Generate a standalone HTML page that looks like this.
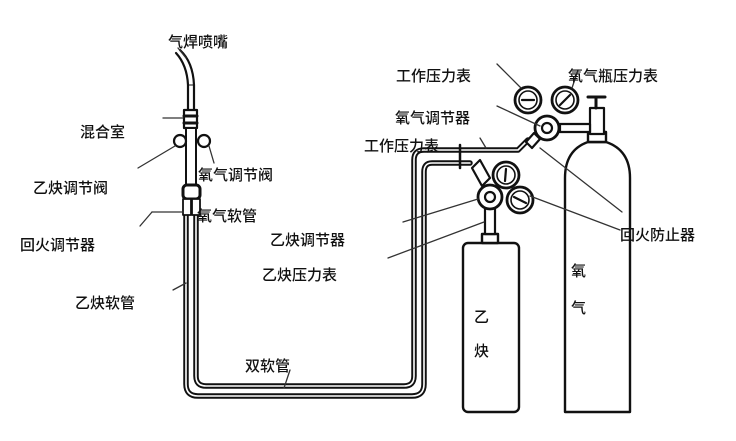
<!DOCTYPE html>
<html><head><meta charset="utf-8"><style>
html,body{margin:0;padding:0;background:#fff;}
svg{display:block}
text{font-family:"Liberation Sans","Noto Sans CJK SC",sans-serif;font-size:15px;fill:#111;font-weight:500;}
</style></head><body>
<svg width="736" height="441" viewBox="0 0 736 441" xmlns="http://www.w3.org/2000/svg">
<rect width="736" height="441" fill="#fff"/>
<g fill="none" stroke-linecap="round" stroke-linejoin="round">
<!-- hoses -->
<path d="M186,215 V384 Q186,396 198,396 H412 Q424,396 424,384 V172 Q424,163 432,163 H470" stroke="#111" stroke-width="5.5"/>
<path d="M186,215 V384 Q186,396 198,396 H412 Q424,396 424,384 V172 Q424,163 432,163 H470" stroke="#fff" stroke-width="1.6"/>
<path d="M196,215 V376 Q196,386 206,386 H404 Q414,386 414,376 V160 Q414,150 424,150 H518 L528,140" stroke="#111" stroke-width="5.5"/>
<path d="M196,215 V376 Q196,386 206,386 H404 Q414,386 414,376 V160 Q414,150 424,150 H518 L528,140" stroke="#fff" stroke-width="1.6"/>
<line x1="460" y1="145" x2="460" y2="168" stroke="#111" stroke-width="2.5"/>
<!-- torch -->
<path d="M176,53 Q187,65 188,85 V110" stroke="#111" stroke-width="2.2"/>
<path d="M180,50 Q193,62 194,85 V110" stroke="#111" stroke-width="2.2"/>
<line x1="188" y1="85" x2="194" y2="85" stroke="#111" stroke-width="1"/>
<rect x="184" y="110" width="13" height="18" fill="#fff" stroke="#111" stroke-width="2.2"/>
<line x1="184" y1="116" x2="197" y2="116" stroke="#111" stroke-width="3"/>
<line x1="184" y1="123" x2="197" y2="123" stroke="#111" stroke-width="3"/>
<rect x="186" y="128" width="10" height="57" fill="#fff" stroke="#111" stroke-width="2"/>
<circle cx="180" cy="141" r="6" fill="#fff" stroke="#111" stroke-width="2.2"/>
<circle cx="204" cy="141" r="6" fill="#fff" stroke="#111" stroke-width="2.2"/>
<rect x="183" y="185" width="17" height="14" rx="4" fill="#fff" stroke="#111" stroke-width="3"/>
<rect x="183" y="199" width="8" height="16" fill="#fff" stroke="#111" stroke-width="1.8"/>
<rect x="192" y="199" width="8" height="16" fill="#fff" stroke="#111" stroke-width="1.8"/>
<!-- acetylene cylinder -->
<rect x="463" y="243" width="56" height="169" rx="5" fill="#fff" stroke="#111" stroke-width="2.4"/>
<rect x="482" y="234" width="16" height="9" fill="#fff" stroke="#111" stroke-width="2.4"/>
<rect x="485" y="208" width="10" height="26" fill="#fff" stroke="#111" stroke-width="2.2"/>
<!-- oxygen cylinder -->
<path d="M565,412 V178 Q565,150 588,142 H606 Q630,150 630,178 V412 Z" fill="#fff" stroke="#111" stroke-width="2.4"/>
<rect x="588" y="132" width="18" height="10" fill="#fff" stroke="#111" stroke-width="2.4"/>
<rect x="590" y="108" width="14" height="26" fill="#fff" stroke="#111" stroke-width="2.2"/>
<line x1="588" y1="97" x2="605" y2="97" stroke="#111" stroke-width="3"/>
<line x1="596" y1="97" x2="596" y2="108" stroke="#111" stroke-width="3"/>
<rect x="560" y="124" width="30" height="8" fill="#fff" stroke="#111" stroke-width="2.2"/>
<!-- O2 regulator and gauges -->
<circle cx="528" cy="100" r="13" fill="#fff" stroke="#111" stroke-width="2.8"/>
<circle cx="528" cy="100" r="9" fill="#fff" stroke="#111" stroke-width="1.6"/>
<line x1="522" y1="100" x2="534" y2="100" stroke="#111" stroke-width="2.2"/>
<circle cx="565" cy="100" r="13" fill="#fff" stroke="#111" stroke-width="2.8"/>
<circle cx="565" cy="100" r="9" fill="#fff" stroke="#111" stroke-width="1.6"/>
<line x1="560" y1="105" x2="570" y2="95" stroke="#111" stroke-width="2.2"/>
<circle cx="547" cy="128" r="12" fill="#fff" stroke="#111" stroke-width="2.8"/>
<circle cx="547" cy="128" r="5" fill="#fff" stroke="#111" stroke-width="2.2"/>
<path d="M526,142 L534,133 L540,139 L532,148 Z" fill="#fff" stroke="#111" stroke-width="2.2"/>
<!-- C2H2 regulator and gauges -->
<path d="M472,168 L480,160 L490,178 L482,186 Z" fill="#fff" stroke="#111" stroke-width="2.2"/>
<circle cx="506" cy="175" r="13" fill="#fff" stroke="#111" stroke-width="2.8"/>
<circle cx="506" cy="175" r="9" fill="#fff" stroke="#111" stroke-width="1.6"/>
<line x1="506" y1="169" x2="505" y2="181" stroke="#111" stroke-width="2.2"/>
<circle cx="490" cy="197" r="12" fill="#fff" stroke="#111" stroke-width="2.8"/>
<circle cx="490" cy="197" r="5" fill="#fff" stroke="#111" stroke-width="2.2"/>
<circle cx="520" cy="200" r="13" fill="#fff" stroke="#111" stroke-width="2.8"/>
<circle cx="520" cy="200" r="9" fill="#fff" stroke="#111" stroke-width="1.6"/>
<line x1="514" y1="197" x2="526" y2="203" stroke="#111" stroke-width="2.2"/>
<!-- leader lines -->
<g stroke="#333" stroke-width="1.3">
<line x1="178" y1="48" x2="186" y2="58"/>
<line x1="163" y1="118" x2="183" y2="118"/>
<line x1="138" y1="168" x2="175" y2="146"/>
<line x1="209" y1="146" x2="214" y2="163"/>
<line x1="140" y1="226" x2="152" y2="212"/><line x1="152" y1="212" x2="183" y2="212"/>
<line x1="173" y1="290" x2="186" y2="283"/>
<line x1="290" y1="370" x2="284" y2="388"/>
<line x1="497" y1="64" x2="521" y2="88"/>
<line x1="578" y1="70" x2="572" y2="88"/>
<line x1="497" y1="106" x2="540" y2="126"/>
<line x1="480" y1="138" x2="486" y2="148"/>
<line x1="403" y1="222" x2="478" y2="199"/>
<line x1="388" y1="258" x2="484" y2="222"/>
<line x1="540" y1="148" x2="622" y2="212"/>
<line x1="530" y1="196" x2="620" y2="230"/>
</g>
</g>
<text x="168" y="47">气焊喷嘴</text>
<text x="80" y="137">混合室</text>
<text x="33" y="193">乙炔调节阀</text>
<text x="198" y="180">氧气调节阀</text>
<text x="197" y="221">氧气软管</text>
<text x="20" y="250">回火调节器</text>
<text x="270" y="245">乙炔调节器</text>
<text x="262" y="280">乙炔压力表</text>
<text x="75" y="308">乙炔软管</text>
<text x="245" y="371">双软管</text>
<text x="396" y="81">工作压力表</text>
<text x="568" y="81">氧气瓶压力表</text>
<text x="395" y="123">氧气调节器</text>
<text x="364" y="151">工作压力表</text>
<text x="620" y="240">回火防止器</text>
<text x="474" y="322">乙</text>
<text x="474" y="356">炔</text>
<text x="571" y="276">氧</text>
<text x="571" y="313">气</text>
</svg>
</body></html>
